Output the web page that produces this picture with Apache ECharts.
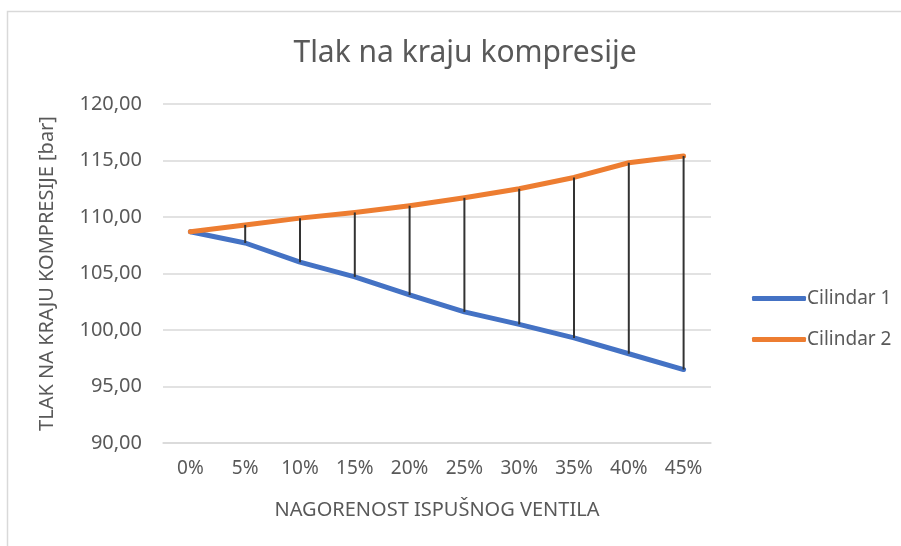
<!DOCTYPE html>
<html>
<head>
<meta charset="utf-8">
<script src="https://cdn.jsdelivr.net/npm/echarts@6/dist/echarts.min.js"></script>
<style>
html,body{margin:0;padding:0;background:#fff;}
#c{width:901px;height:546px;}
</style>
</head>
<body>
<div id="c"></div>
<script>
const categories = ['0%','5%','10%','15%','20%','25%','30%','35%','40%','45%'];
const cilindar1 = [108.7,107.7,106.0,104.7,103.1,101.6,100.5,99.3,97.9,96.5];
const cilindar2 = [108.7,109.3,109.9,110.4,111.0,111.7,112.5,113.5,114.8,115.4];
const yTicks = {min:90, max:120, interval:5};

const font = 'Noto Sans';
const txt = '#595959';
const c1 = '#4472C4', c2 = '#ED7D31';
const hiLo = categories.map((c,i)=>[i, cilindar2[i], cilindar1[i]]);

const chart = echarts.init(document.getElementById('c'));
chart.setOption({
  animation:false,
  backgroundColor:'#fff',
  textStyle:{fontFamily:font},
  graphic:[{type:'rect',shape:{x:7.5,y:11.5,width:1000,height:1000},style:{fill:'none',stroke:'#d9d9d9',lineWidth:1.5},silent:true,z:-1}],
  title:{text:'Tlak na kraju kompresije',left:460,top:33,textAlign:'center',
    textStyle:{fontFamily:font,fontSize:30,fontWeight:'normal',color:txt}},
  grid:{left:163,right:190,top:104,bottom:103},
  legend:{orient:'vertical',left:747,top:284,itemWidth:54,itemHeight:5,itemGap:22,
    data:[{name:'Cilindar 1',icon:'roundRect',itemStyle:{color:c1}},
          {name:'Cilindar 2',icon:'roundRect',itemStyle:{color:c2}}],
    textStyle:{fontFamily:font,fontSize:19,color:txt,padding:[0,0,0,-4]}},
  xAxis:{type:'category',data:categories,boundaryGap:true,
    axisLine:{lineStyle:{color:'#d9d9d9',width:1.5}},axisTick:{show:false},
    axisLabel:{fontFamily:font,fontSize:19,color:txt,margin:16},
    name:'NAGORENOST ISPUŠNOG VENTILA',nameLocation:'middle',nameGap:57,
    nameTextStyle:{fontFamily:font,fontSize:20,color:txt}},
  yAxis:{type:'value',min:yTicks.min,max:yTicks.max,interval:yTicks.interval,
    axisLine:{show:false},axisTick:{show:false},
    splitLine:{lineStyle:{color:'#d9d9d9',width:1.5}},
    axisLabel:{fontFamily:font,fontSize:20,color:txt,margin:21,
      formatter:v=>v.toFixed(2).replace('.',',')},
    name:'TLAK NA KRAJU KOMPRESIJE [bar]',nameLocation:'middle',nameGap:106,
    nameTextStyle:{fontFamily:font,fontSize:20,color:txt}},
  series:[
    {name:'Cilindar 1',type:'line',data:cilindar1,symbol:'none',
      lineStyle:{color:c1,width:5,cap:'round',join:'round'},itemStyle:{color:c1},z:2},
    {name:'Cilindar 2',type:'line',data:cilindar2,symbol:'none',
      lineStyle:{color:c2,width:5,cap:'round',join:'round'},itemStyle:{color:c2},z:2},
    {name:'hilo',type:'custom',data:hiLo,z:5,silent:true,
      renderItem:(params,api)=>{
        const p1 = api.coord([api.value(0),api.value(1)]);
        const p2 = api.coord([api.value(0),api.value(2)]);
        return {type:'line',shape:{x1:p1[0],y1:p1[1],x2:p2[0],y2:p2[1]},
          style:{stroke:'#333333',lineWidth:2}};
      }}
  ]
});
</script>
</body>
</html>
